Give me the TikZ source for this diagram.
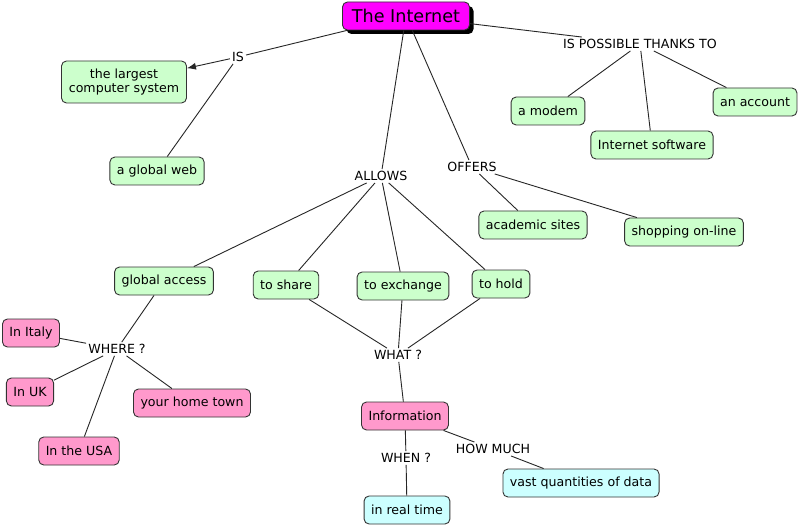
\documentclass[tikz,border=0pt]{standalone}
\usepackage{fontspec}
\setmainfont{DejaVu Sans}
\usetikzlibrary{shadows,arrows.meta}
\definecolor{cgreen}{HTML}{CCFFCC}
\definecolor{cpink}{HTML}{FF99CC}
\definecolor{ccyan}{HTML}{CCFFFF}
\definecolor{cmag}{HTML}{FF00FF}
\definecolor{cborder}{HTML}{333333}
\begin{document}
\begin{tikzpicture}[x=1pt,y=-1pt,
  every node/.style={font=\fontsize{12.6}{14.5}\selectfont},
  concept/.style={draw=cborder, line width=0.9pt, rounded corners=5pt, inner xsep=7pt, minimum height=28pt, align=center},
  gbox/.style={concept, fill=cgreen},
  pbox/.style={concept, fill=cpink},
  cbox/.style={concept, fill=ccyan},
  lab/.style={inner sep=2pt, text=black},
  link/.style={draw=black!85, line width=0.9pt}]
\useasboundingbox (0,0) rectangle (799,526);
\fill[white] (0,0) rectangle (799,526);

\node[concept, fill=cmag, font=\fontsize{17.6}{19}\selectfont, minimum width=127pt, minimum height=28pt,
  drop shadow={shadow xshift=4pt, shadow yshift=-4pt, fill=black, opacity=1}] (net) at (406,16) {The Internet};

\node[lab] (is) at (238,57) {IS};
\node[gbox, minimum height=42pt, minimum width=125pt] (largest) at (124,82) {the largest\\computer system};
\node[gbox] (web) at (157,171) {a global web};

\node[lab] (ipt) at (640,44) {IS POSSIBLE THANKS TO};
\node[gbox] (modem) at (548,111) {a modem};
\node[gbox] (account) at (755,102) {an account};
\node[gbox] (soft) at (652,145) {Internet software};

\node[lab] (allows) at (381,176) {ALLOWS};
\node[lab] (offers) at (472,167) {OFFERS};
\node[gbox] (acad) at (533,225) {academic sites};
\node[gbox] (shop) at (684,232) {shopping on-line};

\node[gbox] (gacc) at (164,281) {global access};
\node[gbox] (share) at (286,285) {to share};
\node[gbox] (exch) at (403,286) {to exchange};
\node[gbox] (hold) at (501,284) {to hold};

\node[lab] (what) at (398,355) {WHAT ?};
\node[lab] (where) at (117,349) {WHERE ?};
\node[pbox] (italy) at (31,333) {In Italy};
\node[pbox] (uk) at (30,392) {In UK};
\node[pbox] (home) at (192,403) {your home town};
\node[pbox] (usa) at (79,451) {In the USA};

\node[pbox] (info) at (405,416) {Information};
\node[lab] (when) at (406,458) {WHEN ?};
\node[lab] (howmuch) at (493,449) {HOW MUCH};
\node[cbox] (vast) at (581,483) {vast quantities of data};
\node[cbox] (real) at (407,510) {in real time};

\draw[link] (net) -- (is);
\draw[link, -{Latex[length=9pt,width=7pt]}] (is) -- (largest);
\draw[link] (is) -- (web);
\draw[link] (net) -- (ipt);
\draw[link] (ipt) -- (modem);
\draw[link] (ipt) -- (soft);
\draw[link] (ipt) -- (account);
\draw[link] (net) -- (allows);
\draw[link] (net) -- (offers);
\draw[link] (offers) -- (acad);
\draw[link] (offers) -- (shop);
\draw[link] (allows) -- (gacc);
\draw[link] (allows) -- (share);
\draw[link] (allows) -- (exch);
\draw[link] (allows) -- (hold);
\draw[link] (share) -- (what);
\draw[link] (exch) -- (what);
\draw[link] (hold) -- (what);
\draw[link] (what) -- (info);
\draw[link] (gacc) -- (where);
\draw[link] (where) -- (italy);
\draw[link] (where) -- (uk);
\draw[link] (where) -- (usa);
\draw[link] (where) -- (home);
\draw[link] (info) -- (when);
\draw[link] (when) -- (real);
\draw[link] (info) -- (howmuch);
\draw[link] (howmuch) -- (vast);
\end{tikzpicture}
\end{document}
